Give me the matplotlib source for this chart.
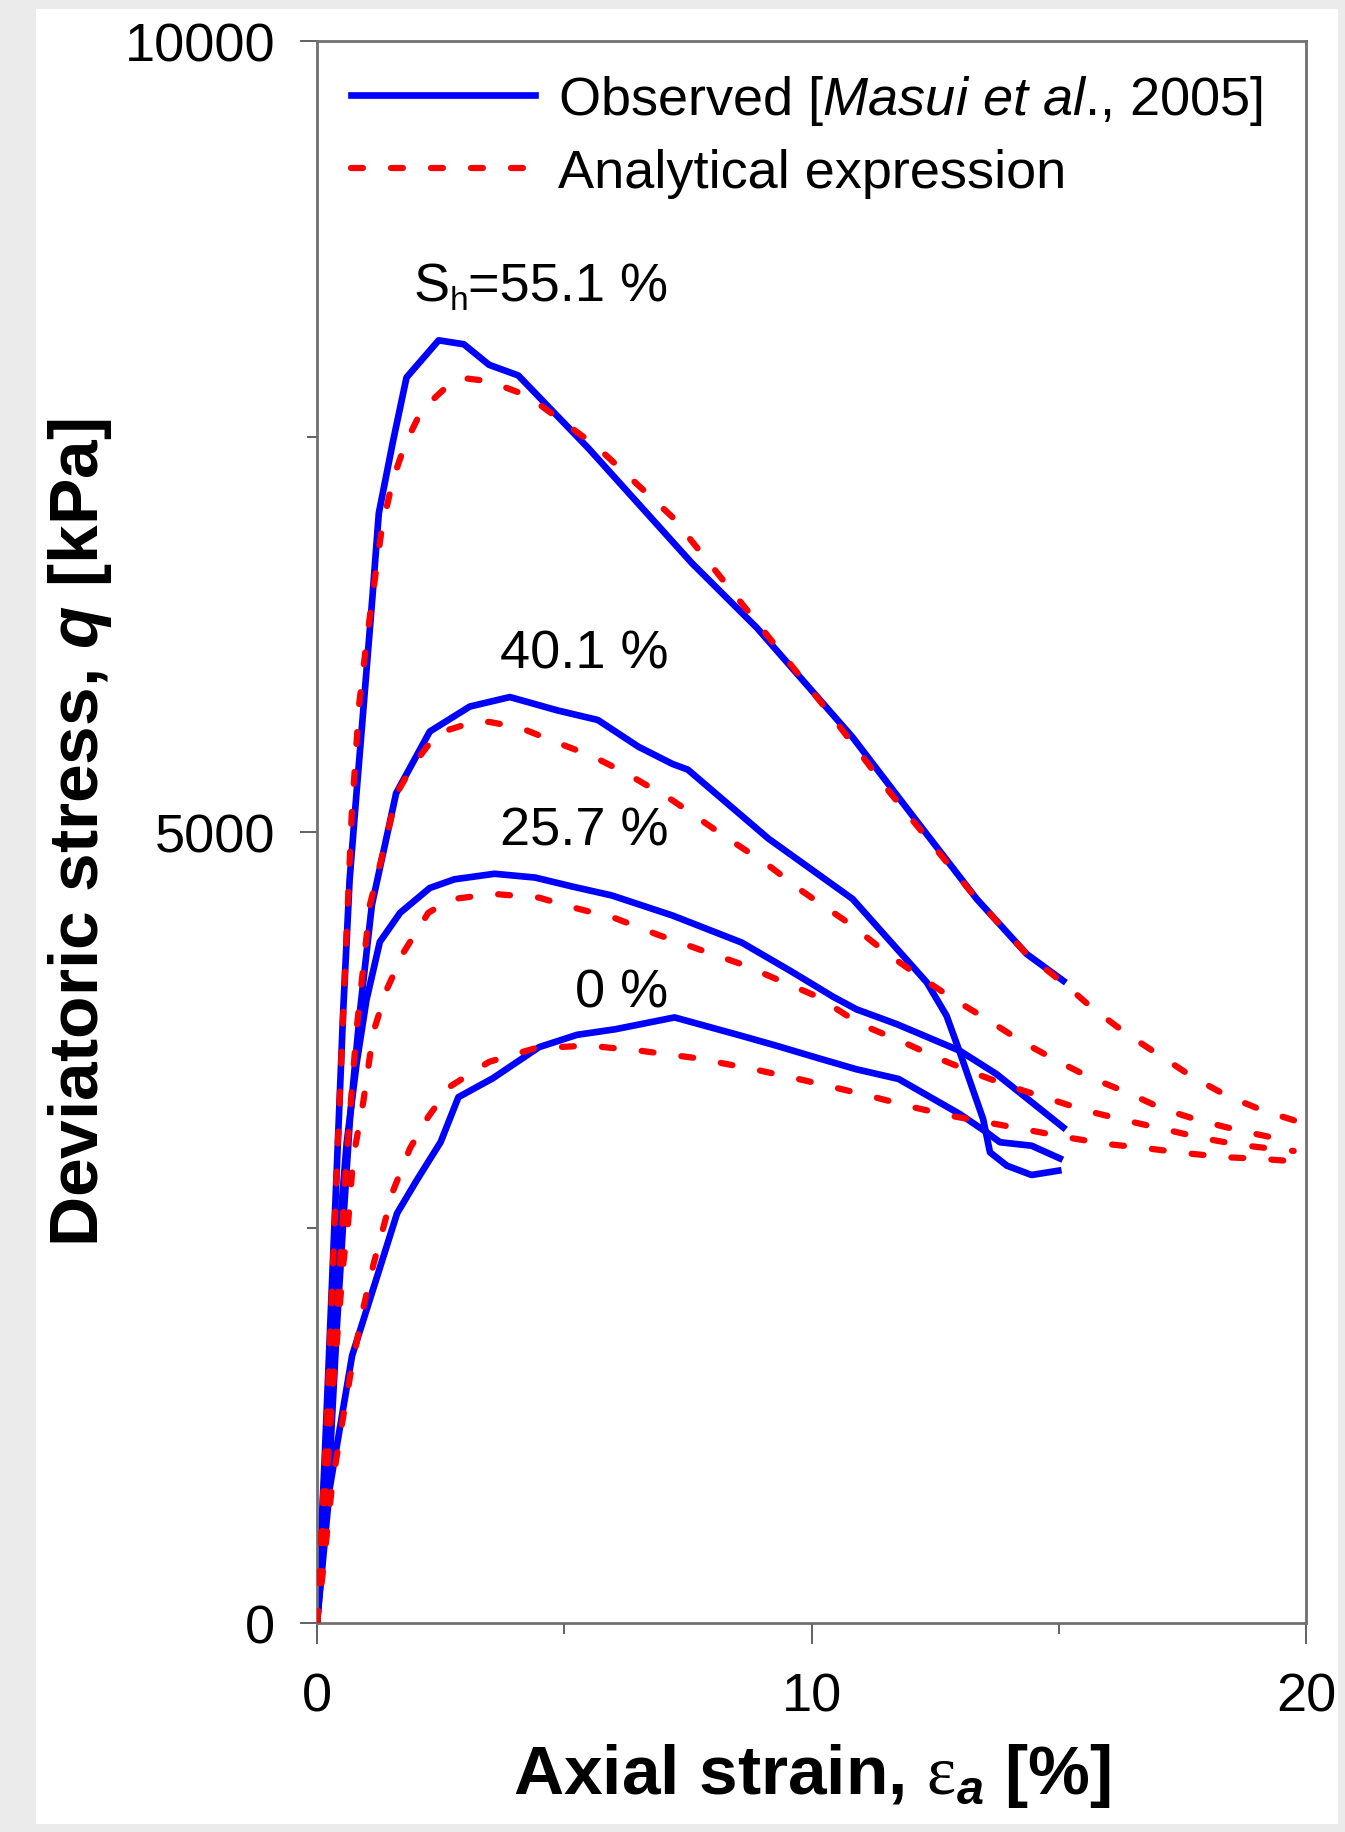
import matplotlib
matplotlib.use("Agg")
import matplotlib.pyplot as plt
from matplotlib.patches import Rectangle

plt.rcParams["font.family"] = ["Liberation Sans", "DejaVu Sans"]
plt.rcParams["mathtext.fontset"] = "custom"
plt.rcParams["mathtext.rm"] = "Liberation Sans"
plt.rcParams["mathtext.it"] = "Liberation Sans:italic"
plt.rcParams["mathtext.bf"] = "Liberation Sans:bold"
plt.rcParams["mathtext.bfit"] = "Liberation Sans:italic:bold"
plt.rcParams["mathtext.sf"] = "Liberation Serif"

# ---- Observed curves [Masui et al., 2005] ----
eps_obs_551 = [0, 0.15, 0.27, 0.40, 0.53, 0.66, 0.80, 0.92, 1.12, 1.25, 1.54, 1.81,
               2.46, 2.97, 3.48, 4.07, 5.49, 7.58, 8.90, 10.83, 12.10, 13.34,
               14.35, 15.09]
q_obs_551 = [0, 1000, 1900, 2870, 3870, 4700, 5250, 5708, 6482, 7015, 7474, 7873,
             8108, 8083, 7953, 7886, 7425, 6700, 6289, 5599, 5080, 4577,
             4229, 4060]

eps_obs_401 = [0, 0.23, 0.40, 0.53, 0.67, 0.87, 1.11, 1.60, 2.28, 3.09, 3.90,
               4.87, 5.68, 6.50, 7.19, 7.50, 9.13, 10.83, 12.33, 12.73, 13.00,
               13.47, 13.61, 13.95, 14.45, 14.99]
q_obs_401 = [0, 858, 1862, 2532, 3201, 3870, 4539, 5245, 5635, 5793, 5853,
             5768, 5708, 5539, 5430, 5394, 4958, 4577, 4050, 3839, 3607,
             3186, 2975, 2891, 2832, 2859]

eps_obs_257 = [0, 0.16, 0.33, 0.47, 0.60, 0.80, 1.00, 1.27, 1.68, 2.28, 2.78,
               3.59, 4.41, 5.18, 5.96, 7.19, 8.59, 9.59, 10.44, 10.91, 11.72,
               13.00, 13.74, 15.09]
q_obs_257 = [0, 858, 1862, 2532, 3034, 3535, 3938, 4305, 4489, 4646, 4701,
             4736, 4712, 4654, 4599, 4472, 4301, 4119, 3958, 3879, 3786,
             3617, 3470, 3133]

eps_obs_0 = [0, 0.26, 0.71, 1.62, 2.02, 2.50, 2.86, 3.56, 4.49, 5.26, 6.03,
             7.23, 8.59, 9.28, 10.13, 10.91, 11.76, 13.00, 13.54, 13.81, 14.45,
             15.02]
q_obs_0 = [0, 858, 1690, 2590, 2800, 3040, 3324, 3444, 3640, 3718, 3753,
           3828, 3711, 3650, 3571, 3500, 3439, 3217, 3102, 3039, 3017,
           2937]

# ---- Analytical expression ----
eps_ana_551 = [0, 0.20, 0.40, 0.55, 0.70, 0.85, 1.00, 1.12, 1.31, 1.54, 1.78,
               2.12, 2.74, 3.05, 3.48, 4.10, 4.49, 5.65, 7.19, 8.74, 10.29,
               11.59, 13.34, 14.35, 15.16, 15.70, 16.38, 17.05, 17.72, 18.40,
               19.14, 20.0]
q_ana_551 = [0, 1300, 2870, 4000, 5100, 5800, 6200, 6482, 6918, 7232, 7450,
             7668, 7849, 7866, 7849, 7776, 7704, 7438, 6990, 6386, 5781,
             5248, 4577, 4229, 4028, 3881, 3723, 3586, 3449, 3333,
             3238, 3154]

eps_ana_401 = [0, 0.20, 0.40, 0.60, 0.80, 1.07, 1.31, 1.62, 1.93, 2.43, 3.17,
               3.48, 4.10, 4.87, 5.57, 6.26, 7.19, 8.20, 9.13, 9.82, 10.78,
               11.59, 12.26, 12.87, 13.54, 14.22, 14.96, 15.63, 16.38, 17.11,
               17.86, 18.67, 19.47, 19.75]
q_ana_401 = [0, 950, 1950, 2950, 3750, 4540, 4838, 5248, 5418, 5623, 5696,
             5696, 5660, 5563, 5479, 5370, 5200, 4982, 4789, 4624, 4418,
             4218, 4071, 3944, 3818, 3681, 3554, 3449, 3354, 3249,
             3175, 3112, 3059, 3048]

eps_ana_257 = [0, 0.15, 0.30, 0.53, 0.63, 0.73, 0.94, 1.14, 1.41, 1.75, 2.25,
               2.70, 3.56, 4.49, 5.18, 6.03, 6.88, 7.81, 8.59, 9.36, 10.13,
               10.98, 11.86, 12.60, 13.34, 14.08, 14.82, 15.56, 16.38, 17.11,
               17.92, 18.67, 19.47, 19.75]
q_ana_257 = [0, 700, 1400, 2264, 2532, 2933, 3302, 3736, 4004, 4239, 4489,
             4574, 4609, 4585, 4523, 4455, 4352, 4249, 4164, 4061, 3958,
             3786, 3671, 3565, 3470, 3386, 3312, 3238, 3175, 3123,
             3064, 3022, 2992, 2984]

eps_ana_0 = [0, 0.13, 0.30, 0.47, 0.67, 0.94, 1.14, 1.54, 1.88, 2.25, 2.70,
             3.48, 4.41, 5.49, 6.57, 7.66, 8.90, 9.90, 11.06, 12.06, 12.80,
             13.61, 14.35, 15.16, 15.97, 16.78, 17.52, 18.40, 19.14, 20.0]
q_ana_0 = [0, 356, 858, 1193, 1561, 1996, 2264, 2733, 3000, 3200, 3393,
           3547, 3633, 3650, 3616, 3571, 3496, 3427, 3341, 3260, 3207,
           3161, 3118, 3070, 3028, 3001, 2971, 2944, 2933, 2912]

sh_labels = ["=55.1 %", "40.1 %", "25.7 %", "0 %"]
sh_label_q = [8360, 6040, 4918, 3898]

obs = [(eps_obs_551, q_obs_551), (eps_obs_401, q_obs_401),
       (eps_obs_257, q_obs_257), (eps_obs_0, q_obs_0)]
ana = [(eps_ana_551, q_ana_551), (eps_ana_401, q_ana_401),
       (eps_ana_257, q_ana_257), (eps_ana_0, q_ana_0)]

W, H = 1345, 1833
fig = plt.figure(figsize=(W / 100, H / 100), dpi=100, facecolor="#ebebeb")
fig.add_artist(Rectangle((36 / W, 8 / H), (1338 - 36) / W, (1825 - 10) / H,
                         transform=fig.transFigure, facecolor="white",
                         edgecolor="none", zorder=-10))

ax = fig.add_axes([317 / W, (H - 1624) / H, (1306 - 317) / W, (1624 - 42) / H])

for i, (x, y) in enumerate(obs):
    ax.plot(x, y, color="#0000ff", lw=4.8, solid_joinstyle="round",
            label="Observed [$\\mathit{Masui\\ et\\ al}$., 2005]" if i == 0 else None,
            zorder=2)
for i, (x, y) in enumerate(ana):
    ax.plot(x, y, color="#ff0000", lw=4.5, linestyle=(0, (1.9, 4.5)),
            dash_capstyle="round",
            label="Analytical expression" if i == 0 else None, zorder=3)

ax.set_xlim(0, 20)
ax.set_ylim(0, 10000)
ax.set_xticks([0, 10, 20])
ax.set_xticklabels(["0", "10", "20"])
ax.set_xticks([5, 15], minor=True)
ax.set_yticks([0, 5000, 10000])
ax.set_yticklabels(["0", "5000", "10000"])
ax.set_yticks([2500, 7500], minor=True)

# curve labels, right aligned; first one gets "S" with a small, low "h"
for lab, yq in zip(sh_labels, sh_label_q):
    t = ax.text(7.1, yq, lab, ha="right", va="baseline", fontsize=39)
    if lab.startswith("="):
        fig.canvas.draw()
        bb = t.get_window_extent()
        x0 = ax.transData.inverted().transform((bb.x0, 0))[0]
        ax.annotate("h", xy=(x0, yq), xytext=(0, -6), textcoords="offset points",
                    ha="right", va="baseline", fontsize=24)
        ax.annotate("S", xy=(x0, yq), xytext=(-13, 0), textcoords="offset points",
                    ha="right", va="baseline", fontsize=39)

ax.tick_params(axis="both", which="both", direction="out", color="#555555",
               width=1.3, labelsize=39)
ax.tick_params(axis="x", which="major", length=15, pad=20)
ax.tick_params(axis="x", which="minor", length=8)
ax.tick_params(axis="y", which="major", length=12, pad=18)
ax.tick_params(axis="y", which="minor", length=7)

for s in ax.spines.values():
    s.set_color("#707070")
    s.set_linewidth(2)

ax.set_xlabel("Axial strain, $\\mathsf{\\varepsilon}_{\\mathbfit{a}}$ [%]",
              fontsize=50, fontweight="bold", labelpad=14)
ax.set_ylabel("Deviatoric stress, $\\mathbfit{q}$ [kPa]",
              fontsize=50, fontweight="bold", labelpad=8)

ax.legend(loc="upper left", bbox_to_anchor=(0.034, 0.98), frameon=False,
          fontsize=39, handlelength=3.4, handletextpad=0.42,
          labelspacing=0.4, borderpad=0, borderaxespad=0)

fig.savefig("out.png", dpi=100, facecolor=fig.get_facecolor())
